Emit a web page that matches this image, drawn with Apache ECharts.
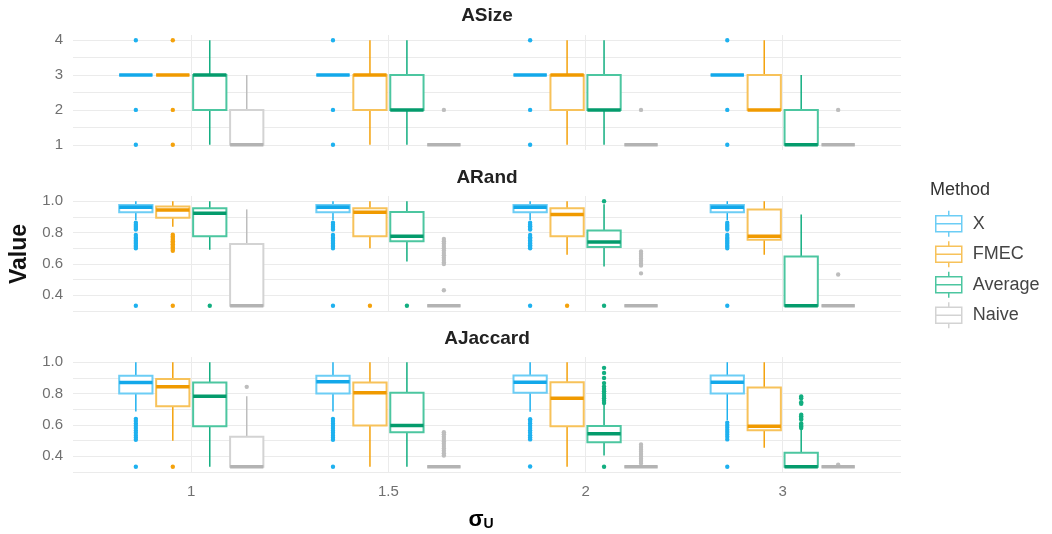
<!DOCTYPE html>
<html><head><meta charset="utf-8">
<script src="https://cdn.jsdelivr.net/npm/echarts@6/dist/echarts.min.js"></script>
<style>html,body{margin:0;padding:0;background:#fff}#c{width:1052px;height:534px}</style>
</head><body><div id="c"></div>
<script>
const categories = ['1', '1.5', '2', '3'];
const methods = ['X', 'FMEC', 'Average', 'Naive'];
const facets = ['ASize', 'ARand', 'AJaccard'];

// boxes: [lower whisker, q1, median, q3, upper whisker] for each category
const asizeBoxX = [[3,3,3,3,3],[3,3,3,3,3],[3,3,3,3,3],[3,3,3,3,3]];
const asizeBoxFMEC = [[3,3,3,3,3],[1,2,3,3,4],[1,2,3,3,4],[2,2,2,3,4]];
const asizeBoxAverage = [[1,2,3,3,4],[1,2,2,3,4],[1,2,2,3,4],[1,1,1,2,3]];
const asizeBoxNaive = [[1,1,1,2,3],[1,1,1,1,1],[1,1,1,1,1],[1,1,1,1,1]];
// outliers for each category
const asizeOutX = [[4,2,1],[4,2,1],[4,2,1],[4,2,1]];
const asizeOutFMEC = [[4,2,1],[],[],[]];
const asizeOutAverage = [[],[],[],[]];
const asizeOutNaive = [[],[2],[2],[2]];

const arandBoxX = [[0.88,0.93,0.962,0.976,1.0],[0.88,0.93,0.962,0.976,1.0],[0.88,0.93,0.962,0.976,1.0],[0.88,0.93,0.962,0.976,1.0]];
const arandBoxFMEC = [[0.837,0.895,0.944,0.966,1.0],[0.70,0.776,0.93,0.955,1.0],[0.658,0.776,0.916,0.955,1.0],[0.658,0.755,0.776,0.948,1.0]];
const arandBoxAverage = [[0.69,0.776,0.923,0.955,1.0],[0.615,0.744,0.776,0.931,1.0],[0.583,0.708,0.74,0.813,0.98],[0.333,0.333,0.333,0.647,0.916]];
const arandBoxNaive = [[0.333,0.333,0.333,0.727,0.948],[0.333,0.333,0.333,0.333,0.333],[0.333,0.333,0.333,0.333,0.333],[0.333,0.333,0.333,0.333,0.333]];
const arandOutX = [
  [0.863,0.85,0.84,0.83,0.82,0.785,0.77,0.76,0.75,0.74,0.73,0.72,0.71,0.70,0.333],
  [0.863,0.85,0.84,0.83,0.82,0.785,0.77,0.76,0.75,0.74,0.73,0.72,0.71,0.70,0.333],
  [0.863,0.85,0.84,0.83,0.82,0.785,0.77,0.76,0.75,0.74,0.73,0.72,0.71,0.70,0.333],
  [0.863,0.85,0.84,0.83,0.82,0.785,0.77,0.76,0.75,0.74,0.73,0.72,0.71,0.70,0.333]];
const arandOutFMEC = [[0.787,0.775,0.765,0.755,0.745,0.735,0.725,0.715,0.705,0.695,0.684,0.333],[0.333],[0.333],[]];
const arandOutAverage = [[0.333],[0.333],[1.0,0.333],[]];
const arandOutNaive = [[],[0.759,0.745,0.73,0.715,0.70,0.685,0.67,0.655,0.64,0.625,0.61,0.60,0.432],[0.68,0.665,0.65,0.635,0.62,0.605,0.59,0.54],[0.533]];

const ajacBoxX = [[0.686,0.80,0.871,0.914,1.0],[0.686,0.80,0.875,0.914,1.0],[0.684,0.806,0.873,0.916,1.0],[0.63,0.80,0.873,0.916,1.0]];
const ajacBoxFMEC = [[0.50,0.72,0.843,0.893,1.0],[0.333,0.596,0.806,0.871,1.0],[0.333,0.592,0.77,0.873,1.0],[0.454,0.566,0.592,0.839,1.0]];
const ajacBoxAverage = [[0.333,0.592,0.783,0.871,1.0],[0.333,0.553,0.596,0.806,1.0],[0.405,0.49,0.544,0.594,0.732],[0.333,0.333,0.333,0.422,0.57]];
const ajacBoxNaive = [[0.333,0.333,0.333,0.525,0.783],[0.333,0.333,0.333,0.333,0.333],[0.333,0.333,0.333,0.333,0.333],[0.333,0.333,0.333,0.333,0.333]];
const ajacOutX = [
  [0.639,0.625,0.61,0.595,0.58,0.565,0.55,0.535,0.52,0.506,0.333],
  [0.639,0.625,0.61,0.595,0.58,0.565,0.55,0.535,0.52,0.506,0.333],
  [0.637,0.625,0.61,0.595,0.58,0.565,0.55,0.535,0.52,0.508,0.335],
  [0.615,0.60,0.585,0.57,0.555,0.54,0.525,0.508,0.333]];
const ajacOutFMEC = [[0.333],[],[],[]];
const ajacOutAverage = [[],[],[0.964,0.932,0.899,0.867,0.845,0.83,0.815,0.80,0.785,0.77,0.755,0.74,0.333],[0.781,0.77,0.745,0.735,0.665,0.655,0.645,0.635,0.61,0.60,0.59,0.58]];
const ajacOutNaive = [[0.843],[0.553,0.54,0.525,0.51,0.495,0.48,0.465,0.45,0.435,0.42,0.405],[0.475,0.46,0.445,0.43,0.415,0.40,0.385,0.37,0.355],[0.346]];

// y axis settings per facet
const yMin = [0.85, 0.3, 0.3];
const yMax = [4.15, 1.0333, 1.0333];
const yGridValues = [[1,1.5,2,2.5,3,3.5,4],[0.3,0.4,0.5,0.6,0.7,0.8,0.9,1.0],[0.3,0.4,0.5,0.6,0.7,0.8,0.9,1.0]];
const yLabelValues = [[1,2,3,4],[0.4,0.6,0.8,1.0],[0.4,0.6,0.8,1.0]];

const boxes = [
  [asizeBoxX, asizeBoxFMEC, asizeBoxAverage, asizeBoxNaive],
  [arandBoxX, arandBoxFMEC, arandBoxAverage, arandBoxNaive],
  [ajacBoxX, ajacBoxFMEC, ajacBoxAverage, ajacBoxNaive]];
const outliers = [
  [asizeOutX, asizeOutFMEC, asizeOutAverage, asizeOutNaive],
  [arandOutX, arandOutFMEC, arandOutAverage, arandOutNaive],
  [ajacOutX, ajacOutFMEC, ajacOutAverage, ajacOutNaive]];

const mainColors = ['#1EB1EF', '#F4A20C', '#12AE80', '#BDBDBD'];
const lightColors = ['#6CCDF5', '#F7C25A', '#4CC6A0', '#D3D3D3'];
const medColors = ['#12A8EA', '#F09A00', '#049B6C', '#B3B3B3'];
const FONT = 'Liberation Sans';

const gridTops = [35, 196, 357];
const gridH = 115;

function dodge(api, mi) {
  const band = api.size([1, 0])[0];
  const step = band * 0.75 / 4;
  return { off: (mi - 1.5) * step, w: step * 0.9 };
}

function boxSeries(fi, mi) {
  return {
    type: 'custom', name: methods[mi], xAxisIndex: fi, yAxisIndex: fi, z: 3,
    data: boxes[fi][mi].map((b, ci) => [ci + 1].concat(b)),
    encode: { x: 0, y: [1, 2, 3, 4, 5] },
    renderItem: function (params, api) {
      const x = api.value(0);
      const d = dodge(api, mi);
      const cx = api.coord([x, api.value(3)])[0] + d.off;
      const yy = k => api.coord([x, api.value(k)])[1];
      const yLo = yy(1), yQ1 = yy(2), yMed = yy(3), yQ3 = yy(4), yHi = yy(5);
      return { type: 'group', children: [
        { type: 'line', shape: { x1: cx, y1: yHi, x2: cx, y2: yQ3 }, style: { stroke: mainColors[mi], lineWidth: 1.5 } },
        { type: 'line', shape: { x1: cx, y1: yQ1, x2: cx, y2: yLo }, style: { stroke: mainColors[mi], lineWidth: 1.5 } },
        { type: 'rect', shape: { x: cx - d.w / 2, y: yQ3, width: d.w, height: yQ1 - yQ3 }, style: { fill: '#fff', stroke: lightColors[mi], lineWidth: 2 } },
        { type: 'line', shape: { x1: cx - d.w / 2, y1: yMed, x2: cx + d.w / 2, y2: yMed }, style: { stroke: medColors[mi], lineWidth: 3.5 } }
      ]};
    }
  };
}

function outlierSeries(fi, mi) {
  const data = [];
  outliers[fi][mi].forEach((vals, ci) => vals.forEach(v => data.push([ci + 1, v])));
  return {
    type: 'custom', name: methods[mi], xAxisIndex: fi, yAxisIndex: fi, z: 2,
    data: data, encode: { x: 0, y: 1 },
    renderItem: function (params, api) {
      const d = dodge(api, mi);
      const p = api.coord([api.value(0), api.value(1)]);
      return { type: 'circle', shape: { cx: p[0] + d.off, cy: p[1], r: 2.2 }, style: { fill: mainColors[mi] } };
    }
  };
}

const grid = [], xAxis = [], yAxis = [], series = [];
facets.forEach((f, fi) => {
  grid.push({ left: 73, width: 828, top: gridTops[fi], height: gridH, containLabel: false, outerBoundsMode: 'none' });
  xAxis.push({
    type: 'value', gridIndex: fi, min: 0.4, max: 4.6,
    axisLine: { show: false },
    axisTick: { show: false, customValues: [1, 2, 3, 4] },
    axisLabel: { show: fi === 2, customValues: [1, 2, 3, 4], formatter: v => categories[Math.round(v) - 1],
      fontSize: 15, color: '#707070', margin: 12, fontFamily: FONT },
    splitLine: { show: true, lineStyle: { color: '#EBEBEB', width: 1 } }
  });
  yAxis.push({
    type: 'value', gridIndex: fi, min: yMin[fi], max: yMax[fi],
    axisLine: { show: false },
    axisTick: { show: false, customValues: yGridValues[fi] },
    axisLabel: { customValues: yLabelValues[fi], formatter: v => fi === 0 ? String(v) : v.toFixed(1),
      fontSize: 15, color: '#707070', margin: 10, fontFamily: FONT },
    splitLine: { show: true, lineStyle: { color: '#EBEBEB', width: 1 } }
  });
  methods.forEach((m, mi) => {
    series.push(outlierSeries(fi, mi));
    series.push(boxSeries(fi, mi));
  });
});

const iconPath = 'path://M13,0L13,5M0,5L26,5L26,21L0,21ZM0,13L26,13M13,21L13,26';

const option = {
  backgroundColor: '#fff',
  animation: false,
  grid, xAxis, yAxis, series,
  legend: {
    orient: 'vertical', left: 930, top: 205, itemWidth: 26, itemHeight: 26, itemGap: 3,
    data: methods.map((m, i) => ({ name: m, icon: iconPath,
      itemStyle: { color: '#fff', borderColor: lightColors[i], borderWidth: 1.5 } })),
    textStyle: { fontSize: 18, color: '#444', fontFamily: FONT, padding: [0, 0, 0, 6] }
  },
  graphic: [
    { type: 'text', x: 487, y: 16, style: { text: 'ASize', font: 'bold 19px "Liberation Sans"', fill: '#222', textAlign: 'center', textVerticalAlign: 'middle' } },
    { type: 'text', x: 487, y: 178, style: { text: 'ARand', font: 'bold 19px "Liberation Sans"', fill: '#222', textAlign: 'center', textVerticalAlign: 'middle' } },
    { type: 'text', x: 487, y: 339, style: { text: 'AJaccard', font: 'bold 19px "Liberation Sans"', fill: '#222', textAlign: 'center', textVerticalAlign: 'middle' } },
    { type: 'text', x: 20, y: 254, rotation: Math.PI / 2, style: { text: 'Value', font: 'bold 23px "Liberation Sans"', fill: '#111', textAlign: 'center', textVerticalAlign: 'middle' } },
    { type: 'text', x: 930, y: 190, style: { text: 'Method', font: '18px "Liberation Sans"', fill: '#333', textAlign: 'left', textVerticalAlign: 'middle' } },
    { type: 'text', x: 481, y: 520, style: {
      text: '{a|σ}{b|U}', textAlign: 'center', textVerticalAlign: 'middle',
      rich: { a: { fontWeight: 'bold', fontSize: 22, fontFamily: FONT, color: '#101a33' },
              b: { fontWeight: 'bold', fontSize: 14, fontFamily: FONT, color: '#101a33', padding: [8, 0, 0, 0] } } } }
  ]
};

const chart = echarts.init(document.getElementById('c'), null, { renderer: 'canvas' });
chart.setOption(option);
</script></body></html>
